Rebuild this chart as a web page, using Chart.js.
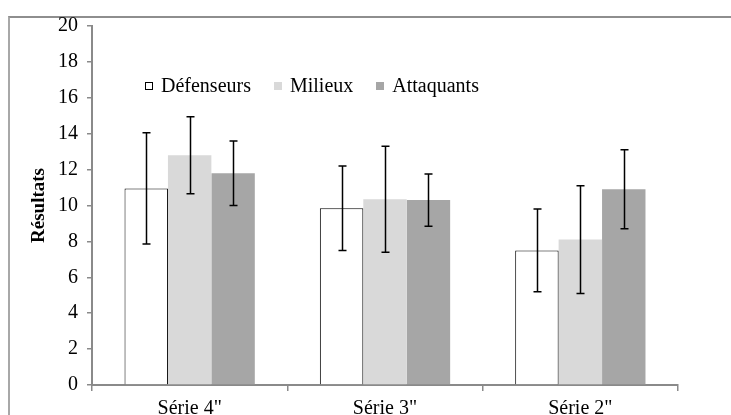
<!DOCTYPE html>
<html>
<head>
<meta charset="utf-8">
<script src="https://cdn.jsdelivr.net/npm/chart.js@4.4.1/dist/chart.umd.min.js"></script>
<style>
    html, body { margin: 0; padding: 0; background: #fff; overflow: hidden; }
    body { width: 731px; height: 415px; position: relative; }
    #frame {
        position: absolute; left: 8px; top: 16px; width: 800px; height: 500px;
        border-top: 2px solid #8e8e8e; border-left: 2px solid #a8a8a8;
    }
    #wrap { position: absolute; left: 0; top: 0; width: 731px; height: 440px; }
    #legend {
        position: absolute; left: 145px; top: 74px; display: flex;
        font-family: "Liberation Serif", "Times New Roman", serif; font-size: 20px; color: #000;
    }
    .item { display: flex; align-items: center; margin-right: 23px; }
    .box { width: 8px; height: 8px; margin-right: 8px; box-sizing: border-box; }
</style>
</head>
<body>
<div id="frame"></div>
<div id="wrap"><canvas id="chart" width="731" height="440"></canvas></div>
<div id="legend"></div>
<script>
// categories and series values
const categories = ['Série 4"', 'Série 3"', 'Série 2"'];
const defenseurs = [10.95, 9.85, 7.5];
const defenseursErr = [3.1, 2.35, 2.3];
const milieux = [12.8, 10.35, 8.1];
const milieuxErr = [2.15, 2.95, 3.0];
const attaquants = [11.8, 10.3, 10.9];
const attaquantsErr = [1.8, 1.45, 2.2];
const yTicks = [0, 2, 4, 6, 8, 10, 12, 14, 16, 18, 20];

const serif = '"Liberation Serif", "Times New Roman", serif';

// draws the +/- error bars on top of each bar
const errorBars = {
    id: 'errorBars',
    afterDatasetsDraw(chart) {
        const ctx = chart.ctx;
        const y = chart.scales.y;
        ctx.save();
        ctx.strokeStyle = '#000';
        ctx.lineWidth = 1.5;
        chart.data.datasets.forEach((ds, i) => {
            const meta = chart.getDatasetMeta(i);
            meta.data.forEach((bar, j) => {
                const v = ds.data[j];
                const e = ds.errors[j];
                const top = y.getPixelForValue(v + e);
                const bottom = y.getPixelForValue(v - e);
                const x = Math.round(bar.x) + 0.5;
                ctx.beginPath();
                ctx.moveTo(x, top);
                ctx.lineTo(x, bottom);
                ctx.moveTo(x - 4, top);
                ctx.lineTo(x + 4, top);
                ctx.moveTo(x - 4, bottom);
                ctx.lineTo(x + 4, bottom);
                ctx.stroke();
            });
        });
        ctx.restore();
    }
};

const datasets = [
    { label: 'Défenseurs', data: defenseurs, errors: defenseursErr, backgroundColor: '#ffffff', borderColor: '#000000', borderWidth: 1 },
    { label: 'Milieux', data: milieux, errors: milieuxErr, backgroundColor: '#d9d9d9', borderColor: '#d9d9d9', borderWidth: 0 },
    { label: 'Attaquants', data: attaquants, errors: attaquantsErr, backgroundColor: '#a6a6a6', borderColor: '#a6a6a6', borderWidth: 0 }
];

// html legend built from the datasets
const legend = document.getElementById('legend');
datasets.forEach(ds => {
    const item = document.createElement('div');
    item.className = 'item';
    const box = document.createElement('span');
    box.className = 'box';
    box.style.background = ds.backgroundColor;
    if (ds.borderWidth) box.style.border = '1px solid #000';
    const txt = document.createElement('span');
    txt.textContent = ds.label;
    item.appendChild(box);
    item.appendChild(txt);
    legend.appendChild(item);
});

new Chart(document.getElementById('chart').getContext('2d'), {
    type: 'bar',
    data: { labels: categories, datasets: datasets },
    options: {
        responsive: false,
        animation: false,
        layout: { padding: { left: 0, right: 53, top: 26, bottom: 0 } },
        datasets: { bar: { categoryPercentage: 0.667, barPercentage: 1 } },
        plugins: { legend: { display: false }, tooltip: { enabled: false } },
        scales: {
            x: {
                afterFit: s => { s.height = 55; },
                grid: { drawOnChartArea: false, drawTicks: true, tickLength: 6, color: '#8a8a8a', lineWidth: 1.5, offset: true },
                border: { color: '#8a8a8a', width: 2 },
                ticks: { color: '#000', padding: 6, font: { family: serif, size: 20 } }
            },
            y: {
                min: 0,
                max: 20,
                afterFit: s => { s.width = 92; },
                afterBuildTicks: s => { s.ticks = yTicks.map(v => ({ value: v })); },
                grid: { drawOnChartArea: false, drawTicks: true, tickLength: 5, color: '#8a8a8a', lineWidth: 1.5 },
                border: { color: '#8a8a8a', width: 2 },
                ticks: { color: '#000', padding: 9, font: { family: serif, size: 20 } },
                title: {
                    display: true,
                    text: 'Résultats',
                    color: '#000',
                    font: { family: serif, size: 19, weight: 'bold' },
                    padding: { top: 28, bottom: 0 }
                }
            }
        }
    },
    plugins: [errorBars]
});
</script>
</body>
</html>
